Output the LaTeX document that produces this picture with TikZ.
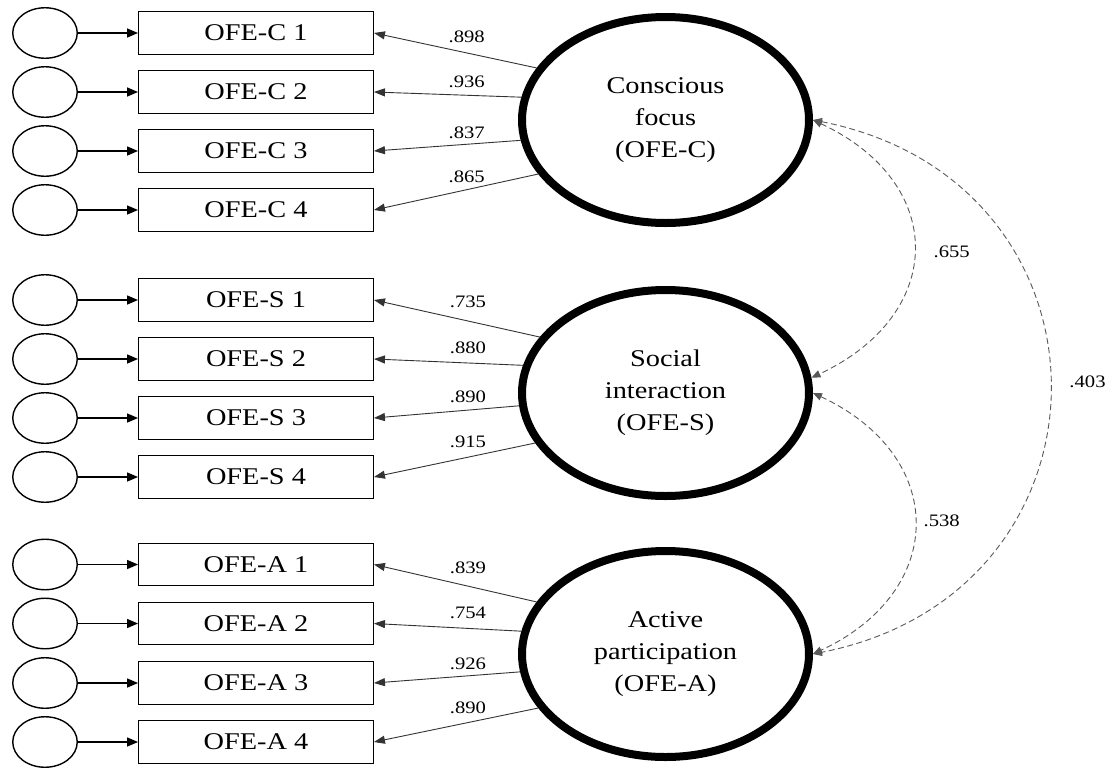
\documentclass[tikz,border=0pt]{standalone}
\usepackage{fontspec}
\setmainfont{Liberation Serif}[FakeStretch=1.18]
\usetikzlibrary{arrows.meta,shapes.geometric}

\begin{document}
\begin{tikzpicture}[x=1pt,y=-1pt,
  errvar/.style={draw, line width=1.4pt, ellipse, minimum width=64.5pt, minimum height=50.5pt, inner sep=0pt},
  indic/.style={draw, line width=1.4pt, rectangle, minimum width=234.5pt, minimum height=42.5pt, inner sep=0pt, font=\fontsize{24}{30}\selectfont},
  factor/.style={draw, line width=8pt, ellipse, minimum width=287pt, minimum height=206pt, inner sep=0pt, align=center, font=\fontsize{24}{32}\selectfont},
  errarrow/.style={line width=1.4pt, -{Triangle[length=11pt,width=9pt]}},
  loading/.style={line width=0.9pt, draw=black!80, -{Triangle[length=11pt,width=8pt]}},
  corr/.style={line width=0.9pt, draw=black!65, dash pattern=on 6pt off 3.5pt, {Triangle[length=9pt,width=7.5pt]}-{Triangle[length=9pt,width=7.5pt]}},
  coef/.style={font=\fontsize{17.5}{20}\selectfont, inner sep=0pt}
]
\useasboundingbox (0,0) rectangle (1109,769);

% latent factors
\node[factor] (C) at (665.5,120) {Conscious\\focus\\(OFE-C)};
\node[factor] (S) at (665.5,393) {Social\\interaction\\(OFE-S)};
\node[factor] (A) at (665.5,654) {Active\\participation\\(OFE-A)};

% indicators with their error terms
\foreach \nm/\txt/\y in {c1/OFE-C 1/33, c2/OFE-C 2/92, c3/OFE-C 3/151, c4/OFE-C 4/210,
                         s1/OFE-S 1/300, s2/OFE-S 2/359, s3/OFE-S 3/418, s4/OFE-S 4/477,
                         a1/OFE-A 1/564.5, a2/OFE-A 2/623.5, a3/OFE-A 3/683, a4/OFE-A 4/742}{
  \node[indic] (\nm) at (256,\y) {\txt};
  \node[errvar] (e\nm) at (45,\y) {};
  \draw[errarrow] (e\nm) -- (\nm);
}

% factor loadings
\draw[loading] (C.158) -- (c1.east);
\draw[loading] (C.171) -- (c2.east);
\draw[loading] (C.188) -- (c3.east);
\draw[loading] (C.203) -- (c4.east);
\draw[loading] (S.156) -- (s1.east);
\draw[loading] (S.169) -- (s2.east);
\draw[loading] (S.185) -- (s3.east);
\draw[loading] (S.201) -- (s4.east);
\draw[loading] (A.158) -- (a1.east);
\draw[loading] (A.171) -- (a2.east);
\draw[loading] (A.187) -- (a3.east);
\draw[loading] (A.203) -- (a4.east);

\node[coef] (lc1) at (466.7,36.7) {.898};
\node[coef] (lc2) at (466.7,81.7) {.936};
\node[coef] (lc3) at (466.7,133) {.837};
\node[coef] (lc4) at (466.7,176.7) {.865};
\node[coef] (ls1) at (468,301.7) {.735};
\node[coef] (ls2) at (468,348) {.880};
\node[coef] (ls3) at (468,396.7) {.890};
\node[coef] (ls4) at (468,441.7) {.915};
\node[coef] (la1) at (468,567.3) {.839};
\node[coef] (la2) at (468,613) {.754};
\node[coef] (la3) at (468,664) {.926};
\node[coef] (la4) at (468,708) {.890};

% factor correlations
\draw[corr] (C.east) .. controls +(135,63) and +(135,-63) .. (S.6);
\draw[corr] (S.east) .. controls +(135,63) and +(135,-63) .. (A.east);
\draw[corr] (C.east) .. controls +(315,62) and +(315,-62) .. (A.east);

\node[coef] (rcs) at (951.7,251.7) {.655};
\node[coef] (rsa) at (941.7,520.7) {.538};
\node[coef] (rca) at (1087.5,381.7) {.403};
\end{tikzpicture}
\end{document}
